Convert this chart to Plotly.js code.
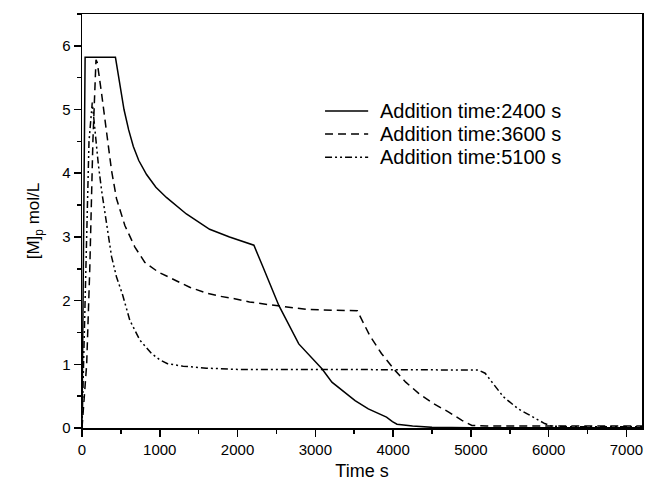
<!DOCTYPE html>
<html>
<head>
<meta charset="utf-8">
<script src="https://cdn.plot.ly/plotly-3.0.1.min.js"></script>
<style>html,body{margin:0;padding:0;background:#fff;}#chart{width:648px;height:492px;}</style>
</head>
<body>
<div id="chart"></div>
<script>
// Addition time 2400 s (solid)
var t2400 = [0, 40, 430, 460, 500, 540, 600, 660, 730, 830, 950, 1085, 1342, 1641, 1897, 2210, 2319, 2532, 2787, 3085, 3213, 3511, 3681, 3915, 3991, 4050, 4250, 4500, 5000, 6000, 7200];
var m2400 = [0, 5.82, 5.82, 5.6, 5.25, 5.0, 4.68, 4.42, 4.2, 3.98, 3.78, 3.62, 3.36, 3.12, 3.0, 2.87, 2.55, 1.92, 1.32, 0.93, 0.72, 0.43, 0.30, 0.17, 0.10, 0.06, 0.03, 0.01, 0.005, 0.005, 0.005];
// Addition time 3600 s (dashed)
var t3600 = [0, 60, 100, 140, 180, 196, 252, 316, 380, 444, 551, 680, 808, 979, 1192, 1385, 1598, 1769, 1962, 2154, 2319, 2574, 2894, 3540, 3700, 3850, 4013, 4162, 4332, 4523, 4715, 4885, 5013, 5200, 7200];
var m3600 = [0, 1.0, 2.5, 4.5, 5.78, 5.74, 5.25, 4.6, 4.04, 3.6, 3.18, 2.84, 2.6, 2.45, 2.32, 2.21, 2.12, 2.07, 2.03, 1.98, 1.95, 1.91, 1.86, 1.84, 1.45, 1.17, 0.92, 0.72, 0.54, 0.38, 0.25, 0.12, 0.04, 0.03, 0.03];
// Addition time 5100 s (dash-dot-dot)
var t5100 = [0, 30, 62, 90, 132, 167, 209, 252, 316, 380, 444, 520, 615, 744, 893, 1000, 1100, 1300, 1600, 2000, 3000, 4000, 5098, 5183, 5268, 5417, 5609, 5800, 5949, 6034, 6200, 7200];
var m5100 = [0, 1.5, 3.3, 4.5, 5.11, 4.67, 4.15, 3.73, 3.21, 2.69, 2.37, 2.1, 1.69, 1.38, 1.17, 1.07, 1.01, 0.97, 0.94, 0.92, 0.92, 0.91, 0.91, 0.86, 0.72, 0.49, 0.30, 0.17, 0.07, 0.03, 0.02, 0.02];

var seriesNames = ["Addition time:2400 s", "Addition time:3600 s", "Addition time:5100 s"];
var xTickVals = [0, 1000, 2000, 3000, 4000, 5000, 6000, 7000];
var yTickVals = [0, 1, 2, 3, 4, 5, 6];

var FONT = "Liberation Sans, Arial, sans-serif";
var dashes = ["solid", "8px,5px", "7px,3px,2px,3px,2px,3px"];
var series = [[t2400, m2400], [t3600, m3600], [t5100, m5100]];

var traces = series.map(function (s, i) {
  return {x: s[0], y: s[1], name: seriesNames[i], mode: "lines", showlegend: false,
          line: {color: "#000", width: 1.5, dash: dashes[i]}};
});

// hand-built legend (line sample + label) in paper coordinates
var legX0 = 0.434, legX1 = 0.511, legTextX = 0.529, legY = [0.766, 0.710, 0.654];
var shapes = [], annotations = [];
seriesNames.forEach(function (name, i) {
  shapes.push({type: "line", xref: "paper", yref: "paper", x0: legX0, x1: legX1, y0: legY[i], y1: legY[i],
               line: {color: "#000", width: 1.5, dash: dashes[i]}});
  annotations.push({xref: "paper", yref: "paper", x: legTextX, y: legY[i], xanchor: "left", yanchor: "middle",
                    text: name, showarrow: false, font: {family: FONT, size: 20, color: "#000"}});
});

var layout = {
  width: 648, height: 492,
  paper_bgcolor: "#fff", plot_bgcolor: "#fff",
  margin: {l: 82, r: 6, t: 14, b: 64},
  font: {family: FONT, color: "#000", size: 15},
  showlegend: false,
  shapes: shapes,
  annotations: annotations,
  xaxis: {
    range: [0, 7200], tickvals: xTickVals, ticktext: xTickVals.map(String),
    ticks: "outside", ticklen: 7, tickwidth: 1.5, tickcolor: "#000",
    minor: {dtick: 500, ticks: "outside", ticklen: 4, tickwidth: 1.5, tickcolor: "#000"},
    showline: true, linecolor: "#000", linewidth: 1.5, mirror: true,
    showgrid: false, zeroline: false,
    tickfont: {family: FONT, size: 15, color: "#000"},
    title: {text: "Time s", font: {family: FONT, size: 18, color: "#000"}, standoff: 8}
  },
  yaxis: {
    range: [0, 6.5], tickvals: yTickVals, ticktext: yTickVals.map(String),
    ticks: "outside", ticklen: 7, tickwidth: 1.5, tickcolor: "#000",
    minor: {dtick: 0.5, ticks: "outside", ticklen: 4, tickwidth: 1.5, tickcolor: "#000"},
    showline: true, linecolor: "#000", linewidth: 1.5, mirror: true,
    showgrid: false, zeroline: false,
    tickfont: {family: FONT, size: 15, color: "#000"},
    title: {text: "[M]<sub>p</sub> mol/L", font: {family: FONT, size: 17, color: "#000"}, standoff: 18}
  }
};

Plotly.newPlot("chart", traces, layout, {displayModeBar: false, staticPlot: true});
</script>
</body>
</html>
